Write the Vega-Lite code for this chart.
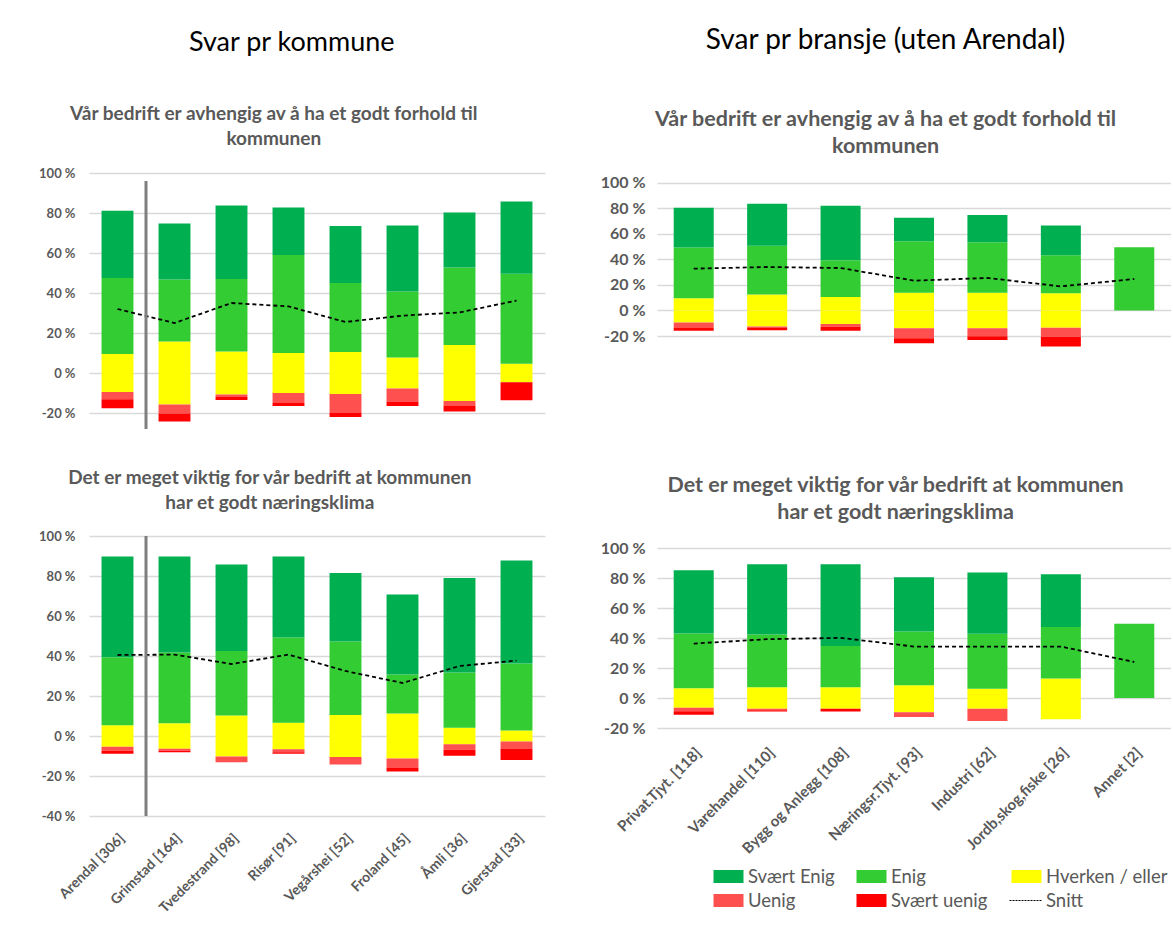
{
"$schema": "https://vega.github.io/schema/vega-lite/v6.json",
"padding": {"left": 38, "top": 26, "right": 0, "bottom": 0},
"background": "white",
"config": {
  "font": "Lato",
  "view": {"stroke": null},
  "axisY": {"grid": true, "gridColor": "#D9D9D9", "gridWidth": 1.5, "domain": false, "ticks": false, "title": null, "labelFont": "Lato", "labelFontWeight": "bold", "labelColor": "#595959", "labelPadding": 14},
  "axisX": {"grid": false, "domain": false, "ticks": false, "title": null, "labelFont": "Lato", "labelFontWeight": "bold", "labelColor": "#595959"},
  "legend": {"orient": "none", "direction": "horizontal", "legendX": 629, "legendY": 693, "columns": 3, "title": null, "symbolType": "M-1.5,-0.65H1.5V0.65H-1.5Z", "symbolSize": 400, "symbolOpacity": 1, "labelFontSize": 18.5, "labelFont": "Lato", "labelColor": "#595959", "labelOffset": 9, "columnPadding": 19, "rowPadding": 4},
  "title": {"font": "Lato", "fontWeight": "bold", "color": "#595959", "anchor": "middle", "frame": "bounds"}
},
"datasets": {
"tl": [
{"cat":"Arendal [306]","type":"Hverken / eller","v":9.5,"o":1},{"cat":"Arendal [306]","type":"Hverken / eller","v":-9.5,"o":1},{"cat":"Arendal [306]","type":"Enig","v":38,"o":2},{"cat":"Arendal [306]","type":"Svært Enig","v":33.6,"o":3},{"cat":"Arendal [306]","type":"Uenig","v":-3.6,"o":2},{"cat":"Arendal [306]","type":"Svært uenig","v":-4.5,"o":3},{"cat":"Arendal [306]","type":"Snitt","v":32,"o":0},
{"cat":"Grimstad [164]","type":"Hverken / eller","v":15.7,"o":1},{"cat":"Grimstad [164]","type":"Hverken / eller","v":-15.7,"o":1},{"cat":"Grimstad [164]","type":"Enig","v":31,"o":2},{"cat":"Grimstad [164]","type":"Svært Enig","v":28,"o":3},{"cat":"Grimstad [164]","type":"Uenig","v":-4.5,"o":2},{"cat":"Grimstad [164]","type":"Svært uenig","v":-4,"o":3},{"cat":"Grimstad [164]","type":"Snitt","v":25,"o":0},
{"cat":"Tvedestrand [98]","type":"Hverken / eller","v":10.8,"o":1},{"cat":"Tvedestrand [98]","type":"Hverken / eller","v":-10.8,"o":1},{"cat":"Tvedestrand [98]","type":"Enig","v":36.2,"o":2},{"cat":"Tvedestrand [98]","type":"Svært Enig","v":36.8,"o":3},{"cat":"Tvedestrand [98]","type":"Uenig","v":-1.2,"o":2},{"cat":"Tvedestrand [98]","type":"Svært uenig","v":-1.5,"o":3},{"cat":"Tvedestrand [98]","type":"Snitt","v":35,"o":0},
{"cat":"Risør [91]","type":"Hverken / eller","v":10,"o":1},{"cat":"Risør [91]","type":"Hverken / eller","v":-10,"o":1},{"cat":"Risør [91]","type":"Enig","v":49,"o":2},{"cat":"Risør [91]","type":"Svært Enig","v":23.8,"o":3},{"cat":"Risør [91]","type":"Uenig","v":-5,"o":2},{"cat":"Risør [91]","type":"Svært uenig","v":-1.5,"o":3},{"cat":"Risør [91]","type":"Snitt","v":33.3,"o":0},
{"cat":"Vegårshei [52]","type":"Hverken / eller","v":10.5,"o":1},{"cat":"Vegårshei [52]","type":"Hverken / eller","v":-10.5,"o":1},{"cat":"Vegårshei [52]","type":"Enig","v":34.5,"o":2},{"cat":"Vegårshei [52]","type":"Svært Enig","v":28.5,"o":3},{"cat":"Vegårshei [52]","type":"Uenig","v":-9.5,"o":2},{"cat":"Vegårshei [52]","type":"Svært uenig","v":-2,"o":3},{"cat":"Vegårshei [52]","type":"Snitt","v":25.5,"o":0},
{"cat":"Froland [45]","type":"Hverken / eller","v":7.8,"o":1},{"cat":"Froland [45]","type":"Hverken / eller","v":-7.8,"o":1},{"cat":"Froland [45]","type":"Enig","v":33,"o":2},{"cat":"Froland [45]","type":"Svært Enig","v":33,"o":3},{"cat":"Froland [45]","type":"Uenig","v":-6.5,"o":2},{"cat":"Froland [45]","type":"Svært uenig","v":-2.2,"o":3},{"cat":"Froland [45]","type":"Snitt","v":28.7,"o":0},
{"cat":"Åmli [36]","type":"Hverken / eller","v":14,"o":1},{"cat":"Åmli [36]","type":"Hverken / eller","v":-14,"o":1},{"cat":"Åmli [36]","type":"Enig","v":38.7,"o":2},{"cat":"Åmli [36]","type":"Svært Enig","v":27.5,"o":3},{"cat":"Åmli [36]","type":"Uenig","v":-2.5,"o":2},{"cat":"Åmli [36]","type":"Svært uenig","v":-2.8,"o":3},{"cat":"Åmli [36]","type":"Snitt","v":30.3,"o":0},
{"cat":"Gjerstad [33]","type":"Hverken / eller","v":4.6,"o":1},{"cat":"Gjerstad [33]","type":"Hverken / eller","v":-4.6,"o":1},{"cat":"Gjerstad [33]","type":"Enig","v":45,"o":2},{"cat":"Gjerstad [33]","type":"Svært Enig","v":36.2,"o":3},{"cat":"Gjerstad [33]","type":"Svært uenig","v":-9,"o":3},{"cat":"Gjerstad [33]","type":"Snitt","v":36.2,"o":0}
],
"bl": [
{"cat":"Arendal [306]","type":"Hverken / eller","v":5.4,"o":1},{"cat":"Arendal [306]","type":"Hverken / eller","v":-5.4,"o":1},{"cat":"Arendal [306]","type":"Enig","v":34,"o":2},{"cat":"Arendal [306]","type":"Svært Enig","v":50.3,"o":3},{"cat":"Arendal [306]","type":"Uenig","v":-2,"o":2},{"cat":"Arendal [306]","type":"Svært uenig","v":-1.5,"o":3},{"cat":"Arendal [306]","type":"Snitt","v":40.5,"o":0},
{"cat":"Grimstad [164]","type":"Hverken / eller","v":6.4,"o":1},{"cat":"Grimstad [164]","type":"Hverken / eller","v":-6.4,"o":1},{"cat":"Grimstad [164]","type":"Enig","v":35.3,"o":2},{"cat":"Grimstad [164]","type":"Svært Enig","v":48,"o":3},{"cat":"Grimstad [164]","type":"Uenig","v":-1,"o":2},{"cat":"Grimstad [164]","type":"Svært uenig","v":-0.7,"o":3},{"cat":"Grimstad [164]","type":"Snitt","v":40.7,"o":0},
{"cat":"Tvedestrand [98]","type":"Hverken / eller","v":10.2,"o":1},{"cat":"Tvedestrand [98]","type":"Hverken / eller","v":-10.2,"o":1},{"cat":"Tvedestrand [98]","type":"Enig","v":32.3,"o":2},{"cat":"Tvedestrand [98]","type":"Svært Enig","v":43.2,"o":3},{"cat":"Tvedestrand [98]","type":"Uenig","v":-2.9,"o":2},{"cat":"Tvedestrand [98]","type":"Snitt","v":36,"o":0},
{"cat":"Risør [91]","type":"Hverken / eller","v":6.6,"o":1},{"cat":"Risør [91]","type":"Hverken / eller","v":-6.6,"o":1},{"cat":"Risør [91]","type":"Enig","v":42.6,"o":2},{"cat":"Risør [91]","type":"Svært Enig","v":40.5,"o":3},{"cat":"Risør [91]","type":"Uenig","v":-1.5,"o":2},{"cat":"Risør [91]","type":"Svært uenig","v":-0.8,"o":3},{"cat":"Risør [91]","type":"Snitt","v":40.7,"o":0},
{"cat":"Vegårshei [52]","type":"Hverken / eller","v":10.5,"o":1},{"cat":"Vegårshei [52]","type":"Hverken / eller","v":-10.5,"o":1},{"cat":"Vegårshei [52]","type":"Enig","v":36.7,"o":2},{"cat":"Vegårshei [52]","type":"Svært Enig","v":34.3,"o":3},{"cat":"Vegårshei [52]","type":"Uenig","v":-3.7,"o":2},{"cat":"Vegårshei [52]","type":"Snitt","v":32.5,"o":0},
{"cat":"Froland [45]","type":"Hverken / eller","v":11.2,"o":1},{"cat":"Froland [45]","type":"Hverken / eller","v":-11.2,"o":1},{"cat":"Froland [45]","type":"Enig","v":19.6,"o":2},{"cat":"Froland [45]","type":"Svært Enig","v":39.9,"o":3},{"cat":"Froland [45]","type":"Uenig","v":-4.6,"o":2},{"cat":"Froland [45]","type":"Svært uenig","v":-2,"o":3},{"cat":"Froland [45]","type":"Snitt","v":26.5,"o":0},
{"cat":"Åmli [36]","type":"Hverken / eller","v":4.1,"o":1},{"cat":"Åmli [36]","type":"Hverken / eller","v":-4.1,"o":1},{"cat":"Åmli [36]","type":"Enig","v":27.7,"o":2},{"cat":"Åmli [36]","type":"Svært Enig","v":47.2,"o":3},{"cat":"Åmli [36]","type":"Uenig","v":-2.8,"o":2},{"cat":"Åmli [36]","type":"Svært uenig","v":-3,"o":3},{"cat":"Åmli [36]","type":"Snitt","v":35,"o":0},
{"cat":"Gjerstad [33]","type":"Hverken / eller","v":2.8,"o":1},{"cat":"Gjerstad [33]","type":"Hverken / eller","v":-2.8,"o":1},{"cat":"Gjerstad [33]","type":"Enig","v":33.5,"o":2},{"cat":"Gjerstad [33]","type":"Svært Enig","v":51.4,"o":3},{"cat":"Gjerstad [33]","type":"Uenig","v":-3.4,"o":2},{"cat":"Gjerstad [33]","type":"Svært uenig","v":-5.8,"o":3},{"cat":"Gjerstad [33]","type":"Snitt","v":37.7,"o":0}
],
"tr": [
{"cat":"Privat.Tjyt. [118]","type":"Hverken / eller","v":9.5,"o":1},{"cat":"Privat.Tjyt. [118]","type":"Hverken / eller","v":-9.5,"o":1},{"cat":"Privat.Tjyt. [118]","type":"Enig","v":39.8,"o":2},{"cat":"Privat.Tjyt. [118]","type":"Svært Enig","v":31.3,"o":3},{"cat":"Privat.Tjyt. [118]","type":"Uenig","v":-4.2,"o":2},{"cat":"Privat.Tjyt. [118]","type":"Svært uenig","v":-2.1,"o":3},{"cat":"Privat.Tjyt. [118]","type":"Snitt","v":32.8,"o":0},
{"cat":"Varehandel [110]","type":"Hverken / eller","v":12.5,"o":1},{"cat":"Varehandel [110]","type":"Hverken / eller","v":-12.5,"o":1},{"cat":"Varehandel [110]","type":"Enig","v":38.2,"o":2},{"cat":"Varehandel [110]","type":"Svært Enig","v":33,"o":3},{"cat":"Varehandel [110]","type":"Uenig","v":-1.3,"o":2},{"cat":"Varehandel [110]","type":"Svært uenig","v":-1.6,"o":3},{"cat":"Varehandel [110]","type":"Snitt","v":34.1,"o":0},
{"cat":"Bygg og Anlegg [108]","type":"Hverken / eller","v":10.6,"o":1},{"cat":"Bygg og Anlegg [108]","type":"Hverken / eller","v":-10.6,"o":1},{"cat":"Bygg og Anlegg [108]","type":"Enig","v":28.8,"o":2},{"cat":"Bygg og Anlegg [108]","type":"Svært Enig","v":42.8,"o":3},{"cat":"Bygg og Anlegg [108]","type":"Uenig","v":-2.1,"o":2},{"cat":"Bygg og Anlegg [108]","type":"Svært uenig","v":-3.1,"o":3},{"cat":"Bygg og Anlegg [108]","type":"Snitt","v":33.3,"o":0},
{"cat":"Næringsr.Tjyt. [93]","type":"Hverken / eller","v":13.9,"o":1},{"cat":"Næringsr.Tjyt. [93]","type":"Hverken / eller","v":-13.9,"o":1},{"cat":"Næringsr.Tjyt. [93]","type":"Enig","v":40.4,"o":2},{"cat":"Næringsr.Tjyt. [93]","type":"Svært Enig","v":18.4,"o":3},{"cat":"Næringsr.Tjyt. [93]","type":"Uenig","v":-7.8,"o":2},{"cat":"Næringsr.Tjyt. [93]","type":"Svært uenig","v":-4,"o":3},{"cat":"Næringsr.Tjyt. [93]","type":"Snitt","v":23.4,"o":0},
{"cat":"Industri [62]","type":"Hverken / eller","v":13.9,"o":1},{"cat":"Industri [62]","type":"Hverken / eller","v":-13.9,"o":1},{"cat":"Industri [62]","type":"Enig","v":39.6,"o":2},{"cat":"Industri [62]","type":"Svært Enig","v":21.3,"o":3},{"cat":"Industri [62]","type":"Uenig","v":-6.3,"o":2},{"cat":"Industri [62]","type":"Svært uenig","v":-2.9,"o":3},{"cat":"Industri [62]","type":"Snitt","v":25.5,"o":0},
{"cat":"Jordb,skog,fiske [26]","type":"Hverken / eller","v":13.5,"o":1},{"cat":"Jordb,skog,fiske [26]","type":"Hverken / eller","v":-13.5,"o":1},{"cat":"Jordb,skog,fiske [26]","type":"Enig","v":29.8,"o":2},{"cat":"Jordb,skog,fiske [26]","type":"Svært Enig","v":23.4,"o":3},{"cat":"Jordb,skog,fiske [26]","type":"Uenig","v":-7.1,"o":2},{"cat":"Jordb,skog,fiske [26]","type":"Svært uenig","v":-7.6,"o":3},{"cat":"Jordb,skog,fiske [26]","type":"Snitt","v":18.9,"o":0},
{"cat":"Annet [2]","type":"Enig","v":49.5,"o":2},{"cat":"Annet [2]","type":"Snitt","v":24.7,"o":0}
],
"br": [
{"cat":"Privat.Tjyt. [118]","type":"Hverken / eller","v":6.5,"o":1},{"cat":"Privat.Tjyt. [118]","type":"Hverken / eller","v":-6.5,"o":1},{"cat":"Privat.Tjyt. [118]","type":"Enig","v":36.5,"o":2},{"cat":"Privat.Tjyt. [118]","type":"Svært Enig","v":42.2,"o":3},{"cat":"Privat.Tjyt. [118]","type":"Uenig","v":-2.3,"o":2},{"cat":"Privat.Tjyt. [118]","type":"Svært uenig","v":-2.4,"o":3},{"cat":"Privat.Tjyt. [118]","type":"Snitt","v":36.3,"o":0},
{"cat":"Varehandel [110]","type":"Hverken / eller","v":7.2,"o":1},{"cat":"Varehandel [110]","type":"Hverken / eller","v":-7.2,"o":1},{"cat":"Varehandel [110]","type":"Enig","v":35.2,"o":2},{"cat":"Varehandel [110]","type":"Svært Enig","v":46.8,"o":3},{"cat":"Varehandel [110]","type":"Uenig","v":-0.9,"o":2},{"cat":"Varehandel [110]","type":"Svært uenig","v":-0.9,"o":3},{"cat":"Varehandel [110]","type":"Snitt","v":39.2,"o":0},
{"cat":"Bygg og Anlegg [108]","type":"Hverken / eller","v":7.2,"o":1},{"cat":"Bygg og Anlegg [108]","type":"Hverken / eller","v":-7.2,"o":1},{"cat":"Bygg og Anlegg [108]","type":"Enig","v":27.4,"o":2},{"cat":"Bygg og Anlegg [108]","type":"Svært Enig","v":54.6,"o":3},{"cat":"Bygg og Anlegg [108]","type":"Svært uenig","v":-1.8,"o":3},{"cat":"Bygg og Anlegg [108]","type":"Snitt","v":40.1,"o":0},
{"cat":"Næringsr.Tjyt. [93]","type":"Hverken / eller","v":8.5,"o":1},{"cat":"Næringsr.Tjyt. [93]","type":"Hverken / eller","v":-9.5,"o":1},{"cat":"Næringsr.Tjyt. [93]","type":"Enig","v":35.9,"o":2},{"cat":"Næringsr.Tjyt. [93]","type":"Svært Enig","v":36.1,"o":3},{"cat":"Næringsr.Tjyt. [93]","type":"Uenig","v":-3.1,"o":2},{"cat":"Næringsr.Tjyt. [93]","type":"Snitt","v":34.3,"o":0},
{"cat":"Industri [62]","type":"Hverken / eller","v":6.2,"o":1},{"cat":"Industri [62]","type":"Hverken / eller","v":-7.2,"o":1},{"cat":"Industri [62]","type":"Enig","v":36.6,"o":2},{"cat":"Industri [62]","type":"Svært Enig","v":40.8,"o":3},{"cat":"Industri [62]","type":"Uenig","v":-8.2,"o":2},{"cat":"Industri [62]","type":"Snitt","v":34.3,"o":0},
{"cat":"Jordb,skog,fiske [26]","type":"Hverken / eller","v":13,"o":1},{"cat":"Jordb,skog,fiske [26]","type":"Hverken / eller","v":-14.2,"o":1},{"cat":"Jordb,skog,fiske [26]","type":"Enig","v":34.3,"o":2},{"cat":"Jordb,skog,fiske [26]","type":"Svært Enig","v":35.2,"o":3},{"cat":"Jordb,skog,fiske [26]","type":"Snitt","v":34.3,"o":0},
{"cat":"Annet [2]","type":"Enig","v":49.5,"o":2},{"cat":"Annet [2]","type":"Snitt","v":24,"o":0}
]
},
"spacing": 55,
"hconcat": [
{
  "title": {"text": "Svar pr kommune", "fontSize": 27, "fontWeight": "normal", "color": "#000000", "offset": 48, "dy": 0},
  "spacing": 38,
  "vconcat": [
    {
      "width": 456, "height": 240,
      "title": {"text": ["Vår bedrift er avhengig av å ha et godt forhold til", "kommunen"], "fontSize": 19, "lineHeight": 25, "offset": 18, "dx": -18},
      "layer": [
        {"data": {"name": "tl"}, "transform": [{"filter": "datum.type !== 'Snitt'"}],
         "mark": {"type": "bar", "width": {"band": 0.56}},
         "encoding": {
           "x": {"field": "cat", "type": "nominal", "scale": {"domain": ["Arendal [306]","Grimstad [164]","Tvedestrand [98]","Risør [91]","Vegårshei [52]","Froland [45]","Åmli [36]","Gjerstad [33]"], "paddingInner": 0, "paddingOuter": 0}, "axis": null},
           "y": {"field": "v", "type": "quantitative", "stack": "zero", "scale": {"domain": [-20, 100], "nice": false, "zero": false}, "axis": {"values": [-20,0,20,40,60,80,100], "labelExpr": "datum.value + ' %'", "labelFontSize": 13}},
           "color": {"field": "type", "type": "nominal", "scale": {"domain": ["Svært Enig","Enig","Hverken / eller","Uenig","Svært uenig","Snitt"], "range": ["#00B050","#33CC33","#FFFF00","#FF5050","#FF0000","#000000"]}},
           "order": {"field": "o", "type": "quantitative"}
         }},
        {"data": {"name": "tl"}, "transform": [{"filter": "datum.type === 'Snitt'"}],
         "mark": {"type": "line", "color": "#000000", "strokeDash": [4, 3], "strokeWidth": 1.8},
         "encoding": {
           "x": {"field": "cat", "type": "nominal", "axis": null},
           "y": {"field": "v", "type": "quantitative", "axis": {"values": [-20,0,20,40,60,80,100], "labelExpr": "datum.value + ' %'", "labelFontSize": 13}}
         }},
        {"data": {"values": [{"cat": "Arendal [306]", "lo": -28, "hi": 96}]},
         "mark": {"type": "rule", "color": "#7F7F7F", "strokeWidth": 3},
         "encoding": {
           "x": {"field": "cat", "type": "nominal", "bandPosition": 1, "axis": null},
           "y": {"field": "lo", "type": "quantitative", "axis": {"values": [-20,0,20,40,60,80,100], "labelExpr": "datum.value + ' %'", "labelFontSize": 13}},
           "y2": {"field": "hi"}
         }}
      ]
    },
    {
      "width": 456, "height": 280,
      "title": {"text": ["Det er meget viktig for vår bedrift at kommunen", "har et godt næringsklima"], "fontSize": 19, "lineHeight": 25, "offset": 17, "dx": -22},
      "layer": [
        {"data": {"name": "bl"}, "transform": [{"filter": "datum.type !== 'Snitt'"}],
         "mark": {"type": "bar", "width": {"band": 0.56}},
         "encoding": {
           "x": {"field": "cat", "type": "nominal", "scale": {"domain": ["Arendal [306]","Grimstad [164]","Tvedestrand [98]","Risør [91]","Vegårshei [52]","Froland [45]","Åmli [36]","Gjerstad [33]"], "paddingInner": 0, "paddingOuter": 0}, "axis": {"labelAngle": -45, "labelFontSize": 14, "labelPadding": 15}},
           "y": {"field": "v", "type": "quantitative", "stack": "zero", "scale": {"domain": [-40, 100], "nice": false, "zero": false}, "axis": {"values": [-40,-20,0,20,40,60,80,100], "labelExpr": "datum.value + ' %'", "labelFontSize": 13}},
           "color": {"field": "type", "type": "nominal", "scale": {"domain": ["Svært Enig","Enig","Hverken / eller","Uenig","Svært uenig","Snitt"], "range": ["#00B050","#33CC33","#FFFF00","#FF5050","#FF0000","#000000"]}},
           "order": {"field": "o", "type": "quantitative"}
         }},
        {"data": {"name": "bl"}, "transform": [{"filter": "datum.type === 'Snitt'"}],
         "mark": {"type": "line", "color": "#000000", "strokeDash": [4, 3], "strokeWidth": 1.8},
         "encoding": {
           "x": {"field": "cat", "type": "nominal", "axis": {"labelAngle": -45, "labelFontSize": 14, "labelPadding": 15}},
           "y": {"field": "v", "type": "quantitative", "axis": {"values": [-40,-20,0,20,40,60,80,100], "labelExpr": "datum.value + ' %'", "labelFontSize": 13}}
         }},
        {"data": {"values": [{"cat": "Arendal [306]", "lo": -40, "hi": 100}]},
         "mark": {"type": "rule", "color": "#7F7F7F", "strokeWidth": 3},
         "encoding": {
           "x": {"field": "cat", "type": "nominal", "bandPosition": 1, "axis": {"labelAngle": -45, "labelFontSize": 14, "labelPadding": 15}},
           "y": {"field": "lo", "type": "quantitative", "axis": {"values": [-40,-20,0,20,40,60,80,100], "labelExpr": "datum.value + ' %'", "labelFontSize": 13}},
           "y2": {"field": "hi"}
         }}
      ]
    }
  ]
},
{
  "title": {"text": "Svar pr bransje (uten Arendal)", "fontSize": 28, "fontWeight": "normal", "color": "#000000", "offset": 48, "dy": -6},
  "spacing": 127,
  "vconcat": [
    {
      "width": 514, "height": 163,
      "title": {"text": ["Vår bedrift er avhengig av å ha et godt forhold til", "kommunen"], "fontSize": 21.5, "lineHeight": 27, "offset": 16},
      "layer": [
        {"data": {"name": "tr"}, "transform": [{"filter": "datum.type !== 'Snitt'"}],
         "mark": {"type": "bar", "width": {"band": 0.545}},
         "encoding": {
           "x": {"field": "cat", "type": "nominal", "scale": {"domain": ["Privat.Tjyt. [118]","Varehandel [110]","Bygg og Anlegg [108]","Næringsr.Tjyt. [93]","Industri [62]","Jordb,skog,fiske [26]","Annet [2]"], "paddingInner": 0, "paddingOuter": 0}, "axis": null},
           "y": {"field": "v", "type": "quantitative", "stack": "zero", "scale": {"domain": [-20, 107.8], "nice": false, "zero": false}, "axis": {"values": [-20,0,20,40,60,80,100], "labelExpr": "datum.value + ' %'", "labelFontSize": 16, "labelPadding": 12}},
           "color": {"field": "type", "type": "nominal", "scale": {"domain": ["Svært Enig","Enig","Hverken / eller","Uenig","Svært uenig","Snitt"], "range": ["#00B050","#33CC33","#FFFF00","#FF5050","#FF0000","#000000"]}},
           "order": {"field": "o", "type": "quantitative"}
         }},
        {"data": {"name": "tr"}, "transform": [{"filter": "datum.type === 'Snitt'"}],
         "mark": {"type": "line", "color": "#000000", "strokeDash": [4, 3], "strokeWidth": 1.8},
         "encoding": {
           "x": {"field": "cat", "type": "nominal", "axis": null},
           "y": {"field": "v", "type": "quantitative", "axis": {"values": [-20,0,20,40,60,80,100], "labelExpr": "datum.value + ' %'", "labelFontSize": 16, "labelPadding": 12}}
         }}
      ]
    },
    {
      "width": 514, "height": 180,
      "title": {"text": ["Det er meget viktig for vår bedrift at kommunen", "har et godt næringsklima"], "fontSize": 21.5, "lineHeight": 27, "offset": 17, "dx": 10},
      "layer": [
        {"data": {"name": "br"}, "transform": [{"filter": "datum.type !== 'Snitt'"}],
         "mark": {"type": "bar", "width": {"band": 0.545}},
         "encoding": {
           "x": {"field": "cat", "type": "nominal", "scale": {"domain": ["Privat.Tjyt. [118]","Varehandel [110]","Bygg og Anlegg [108]","Næringsr.Tjyt. [93]","Industri [62]","Jordb,skog,fiske [26]","Annet [2]"], "paddingInner": 0, "paddingOuter": 0}, "axis": {"labelAngle": -45, "labelFontSize": 15, "labelPadding": 17}},
           "y": {"field": "v", "type": "quantitative", "stack": "zero", "scale": {"domain": [-20, 100], "nice": false, "zero": false}, "axis": {"values": [-20,0,20,40,60,80,100], "labelExpr": "datum.value + ' %'", "labelFontSize": 16, "labelPadding": 12}},
           "color": {"field": "type", "type": "nominal", "scale": {"domain": ["Svært Enig","Enig","Hverken / eller","Uenig","Svært uenig","Snitt"], "range": ["#00B050","#33CC33","#FFFF00","#FF5050","#FF0000","#000000"]},
             "legend": {"encode": {"symbols": {"update": {
                 "shape": [{"test": "datum.value === 'Snitt'", "value": "M-1.7,0H1.5"}, {"value": "M-1.5,-0.65H1.5V0.65H-1.5Z"}],
                 "stroke": [{"test": "datum.value === 'Snitt'", "value": "#000000"}, {"value": "transparent"}],
                 "strokeDash": [{"test": "datum.value === 'Snitt'", "value": [2, 1]}, {"value": [1, 0]}],
                 "strokeWidth": {"value": 1}
               }}}}},
           "order": {"field": "o", "type": "quantitative"}
         }},
        {"data": {"name": "br"}, "transform": [{"filter": "datum.type === 'Snitt'"}],
         "mark": {"type": "line", "color": "#000000", "strokeDash": [4, 3], "strokeWidth": 1.8},
         "encoding": {
           "x": {"field": "cat", "type": "nominal", "axis": {"labelAngle": -45, "labelFontSize": 15, "labelPadding": 17}},
           "y": {"field": "v", "type": "quantitative", "axis": {"values": [-20,0,20,40,60,80,100], "labelExpr": "datum.value + ' %'", "labelFontSize": 16, "labelPadding": 12}}
         }}
      ]
    }
  ]
}
]
}
